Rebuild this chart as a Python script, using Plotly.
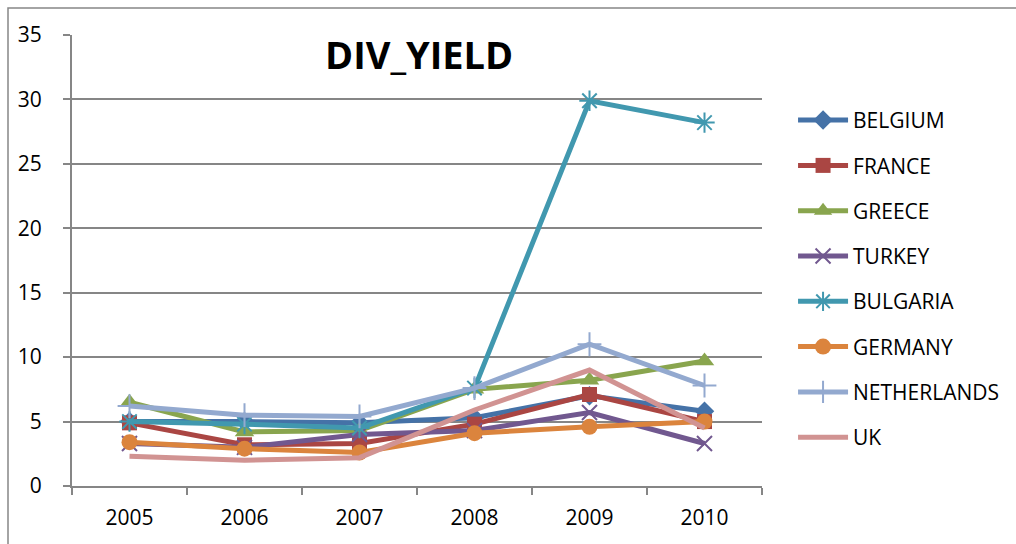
import plotly.graph_objects as go

years = ["2005", "2006", "2007", "2008", "2009", "2010"]
belgium = [5.0, 5.0, 4.9, 5.3, 7.0, 5.8]
france = [4.9, 3.2, 3.3, 4.8, 7.1, 5.0]
greece = [6.5, 4.2, 4.3, 7.5, 8.2, 9.7]
turkey = [3.3, 3.0, 4.0, 4.3, 5.7, 3.3]
bulgaria = [5.0, 4.8, 4.5, 7.6, 29.9, 28.2]
germany = [3.4, 2.9, 2.6, 4.1, 4.6, 5.0]
netherlands = [6.2, 5.5, 5.4, 7.6, 11.0, 7.8]
uk = [2.3, 2.0, 2.2, 5.9, 9.0, 4.5]

series = [
    ("BELGIUM", belgium, "#4572A7", "diamond", 15, 0),
    ("FRANCE", france, "#AA4643", "square", 15, 0),
    ("GREECE", greece, "#89A54E", "triangle-up", 17, 0),
    ("TURKEY", turkey, "#71588F", "x-thin-open", 15, 2),
    ("BULGARIA", bulgaria, "#4198AF", "asterisk-open", 17, 2),
    ("GERMANY", germany, "#DB843D", "circle", 16, 0),
    ("NETHERLANDS", netherlands, "#93A9CF", "cross-thin-open", 17, 2),
    ("UK", uk, "#D19392", None, 0, 0),
]

fig = go.Figure()
for i, (name, vals, color, sym, size, lw) in enumerate(series):
    kw = {}
    if sym is None:
        mode = "lines"
    else:
        mode = "lines+markers"
        kw["marker"] = dict(symbol=sym, size=size, color=color,
                            line=dict(color=color, width=lw))
    fig.add_trace(go.Scatter(x=years, y=vals, name=name, mode=mode,
                             line=dict(color=color, width=5),
                             legendgroup=str(i), **kw))

font_fam = "Open Sans, Liberation Sans, Arial"
fig.update_layout(
    width=1016, height=544,
    margin=dict(l=72, r=254, t=35, b=58),
    paper_bgcolor="white", plot_bgcolor="white",
    font=dict(family=font_fam, size=21, color="black"),
    showlegend=True,
    legend=dict(x=1.045, y=0.856, xanchor="left", yanchor="top",
                font=dict(family=font_fam, size=21),
                tracegroupgap=15, traceorder="grouped", itemwidth=50),
    xaxis=dict(type="category", showgrid=False, showline=True, linecolor="#868686",
               linewidth=2, ticks="outside", tickson="boundaries", ticklen=7,
               tickcolor="#868686", tickwidth=1.5, ticklabelstandoff=12,
               range=[-0.5, 5.5]),
    yaxis=dict(range=[0, 35], dtick=5, showgrid=True, gridcolor="#868686",
               gridwidth=1.5, showline=True, linecolor="#868686", linewidth=2,
               ticks="outside", ticklen=7, tickcolor="#868686", tickwidth=1.5,
               ticklabelstandoff=17, zeroline=False),
    annotations=[dict(text="<b>DIV_YIELD</b>", x=(419 - 72) / 690, y=(486 - 54) / 451,
                      xref="paper", yref="paper", showarrow=False,
                      xanchor="center", yanchor="middle",
                      font=dict(family=font_fam, size=38, color="black"))],
    shapes=[dict(type="rect", xref="paper", yref="paper",
                 x0=(8 - 72) / 690, x1=(1030 - 72) / 690,
                 y0=(486 - 560) / 451, y1=(486 - 8) / 451,
                 line=dict(color="#868686", width=1.5), layer="below")],
)
fig.write_html("out.html")
